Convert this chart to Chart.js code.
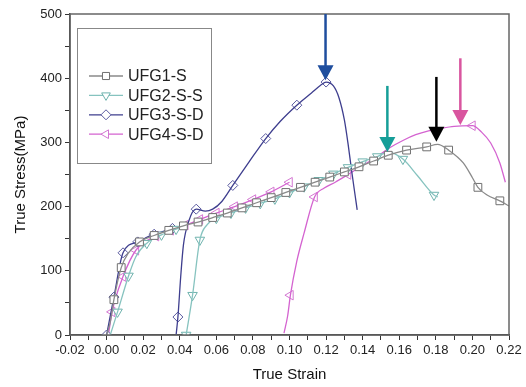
<!DOCTYPE html>
<html>
<head>
<meta charset="utf-8">
<script src="https://cdn.jsdelivr.net/npm/chart.js@4/dist/chart.umd.min.js"></script>
<style>
  html, body { margin: 0; padding: 0; background: #fff; }
  #wrap { width: 526px; height: 387px; }
</style>
</head>
<body>
<div id="wrap"><canvas id="curves"></canvas></div>
<script>
// series names
const names = ['UFG1-S', 'UFG2-S-S', 'UFG3-S-D', 'UFG4-S-D'];

// UFG1-S, one loading
const ufg1Strain = [0, 0.002, 0.004, 0.008, 0.012, 0.018, 0.026, 0.034, 0.042, 0.05, 0.058, 0.066, 0.074, 0.082, 0.09, 0.098, 0.106, 0.114, 0.122, 0.13, 0.138, 0.146, 0.154, 0.164, 0.175, 0.181, 0.187, 0.195, 0.2, 0.203, 0.208, 0.215, 0.22];
const ufg1Stress = [0, 20, 55, 105, 128, 145, 155, 163, 170, 176, 183, 190, 198, 206, 214, 222, 230, 238, 246, 254, 262, 271, 280, 288, 293, 297, 288, 268, 245, 230, 218, 209, 201];
const ufg1MarkStrain = [0.004, 0.008, 0.018, 0.026, 0.034, 0.042, 0.05, 0.058, 0.066, 0.074, 0.082, 0.09, 0.098, 0.106, 0.114, 0.122, 0.13, 0.138, 0.146, 0.154, 0.164, 0.175, 0.187, 0.203, 0.215];
const ufg1MarkStress = [55, 105, 145, 155, 163, 170, 176, 183, 190, 198, 206, 214, 222, 230, 238, 246, 254, 262, 271, 280, 288, 293, 288, 230, 209];

// UFG2-S-S, pre-strain then reload (null = break)
const ufg2Strain = [0.002, 0.006, 0.012, 0.016, 0.022, 0.03, 0.038, 0.042, null, 0.0435, 0.047, 0.051, 0.055, 0.06, 0.068, 0.076, 0.084, 0.092, 0.1, 0.108, 0.116, 0.124, 0.132, 0.14, 0.148, 0.154, 0.162, 0.17, 0.179, 0.181];
const ufg2Stress = [0, 36, 92, 122, 143, 156, 165, 169, null, 0, 62, 148, 172, 182, 190, 198, 205, 212, 222, 231, 241, 251, 261, 270, 278, 285, 274, 248, 218, 215];
const ufg2MarkStrain = [0.006, 0.012, 0.022, 0.03, 0.038, 0.0435, 0.047, 0.051, 0.06, 0.068, 0.076, 0.084, 0.092, 0.1, 0.108, 0.116, 0.124, 0.132, 0.14, 0.148, 0.162, 0.179];
const ufg2MarkStress = [36, 92, 143, 156, 165, 0, 62, 148, 182, 190, 198, 205, 212, 222, 231, 241, 251, 261, 270, 278, 274, 218];

// UFG3-S-D
const ufg3Strain = [0, 0.004, 0.009, 0.017, 0.026, 0.036, null, 0.038, 0.039, 0.0405, 0.042, 0.045, 0.049, 0.054, 0.058, 0.063, 0.069, 0.078, 0.087, 0.095, 0.104, 0.112, 0.117, 0.12, 0.124, 0.127, 0.13, 0.132, 0.134, 0.136, 0.137];
const ufg3Stress = [0, 59, 128, 145, 157, 166, null, 0, 28, 90, 140, 178, 196, 193, 196, 208, 233, 270, 306, 333, 358, 377, 389, 394, 388, 370, 335, 298, 255, 215, 195];
const ufg3MarkStrain = [0, 0.004, 0.009, 0.017, 0.026, 0.036, 0.039, 0.049, 0.069, 0.087, 0.104, 0.12];
const ufg3MarkStress = [0, 59, 128, 145, 157, 166, 28, 196, 233, 306, 358, 394];

// UFG4-S-D
const ufg4Strain = [0.001, 0.003, 0.009, 0.016, 0.027, 0.035, 0.043, 0.051, 0.06, 0.07, 0.08, 0.09, 0.1, null, 0.097, 0.099, 0.1005, 0.104, 0.108, 0.1137, 0.119, 0.125, 0.132, 0.14, 0.148, 0.155, 0.162, 0.169, 0.176, 0.183, 0.19, 0.2, 0.205, 0.21, 0.215, 0.218];
const ufg4Stress = [0, 36, 91, 132, 154, 163, 171, 180, 190, 200, 211, 223, 238, null, 3, 30, 62, 115, 159, 215, 229, 238, 250, 264, 278, 292, 303, 312, 318, 322, 325, 326, 316, 299, 268, 238];
const ufg4MarkStrain = [0.003, 0.009, 0.016, 0.027, 0.035, 0.043, 0.051, 0.06, 0.07, 0.08, 0.09, 0.1, 0.1005, 0.1137, 0.132, 0.2];
const ufg4MarkStress = [36, 91, 132, 154, 163, 171, 180, 190, 200, 211, 223, 238, 62, 215, 250, 326];

// peak arrows: strain, from stress, to stress
const arrowStrain = [0.1197, 0.1535, 0.1803, 0.1934];
const arrowFrom = [500, 388, 402, 431];
const arrowTo = [397, 285, 301, 327];
const arrowColors = ['#1f4e9e', '#169e98', '#000000', '#d9559f'];

const looks = [
  { color: '#8a8a8a', mark: '#707070', style: 'rect', rot: 0, r: 5.5 },
  { color: '#86c3bf', mark: '#6fb3ae', style: 'triangle', rot: 180, r: 5.5 },
  { color: '#3e3e8e', mark: '#5a5aa0', style: 'rectRot', rot: 0, r: 5 },
  { color: '#d463d0', mark: '#d477d2', style: 'triangle', rot: 270, r: 5.5 }
];

function pts(xs, ys) {
  return xs.map((x, i) => ({ x: x === null ? xs[i - 1] : x, y: ys[i] }));
}

const lines = [[ufg1Strain, ufg1Stress], [ufg2Strain, ufg2Stress], [ufg3Strain, ufg3Stress], [ufg4Strain, ufg4Stress]];
const marks = [[ufg1MarkStrain, ufg1MarkStress], [ufg2MarkStrain, ufg2MarkStress], [ufg3MarkStrain, ufg3MarkStress], [ufg4MarkStrain, ufg4MarkStress]];

const datasets = [];
names.forEach((n, i) => {
  const lk = looks[i];
  datasets.push({
    label: n,
    data: pts(lines[i][0], lines[i][1]),
    borderColor: lk.color,
    borderWidth: 1.3,
    pointRadius: 0,
    cubicInterpolationMode: 'monotone',
    spanGaps: false
  });
  datasets.push({
    label: n + ' marks',
    data: pts(marks[i][0], marks[i][1]),
    showLine: false,
    pointStyle: lk.style,
    rotation: lk.rot,
    pointRadius: lk.r,
    pointBorderWidth: 1,
    pointBorderColor: lk.mark,
    pointBackgroundColor: '#fff'
  });
});

function drawMark(ctx, style, rot, x, y, r) {
  ctx.beginPath();
  if (style === 'rect') {
    const s = r * Math.SQRT1_2;
    ctx.rect(x - s, y - s, 2 * s, 2 * s);
  } else if (style === 'rectRot') {
    ctx.moveTo(x, y - r); ctx.lineTo(x + r, y); ctx.lineTo(x, y + r); ctx.lineTo(x - r, y);
    ctx.closePath();
  } else {
    let a = rot * Math.PI / 180;
    ctx.moveTo(x + Math.sin(a) * r, y - Math.cos(a) * r);
    for (let k = 0; k < 2; k++) {
      a += Math.PI * 2 / 3;
      ctx.lineTo(x + Math.sin(a) * r, y - Math.cos(a) * r);
    }
    ctx.closePath();
  }
  ctx.fill();
  ctx.stroke();
}

const extras = {
  id: 'extras',
  beforeDraw(chart) {
    const c = chart.ctx;
    c.save();
    c.fillStyle = '#fff';
    c.fillRect(0, 0, chart.width, chart.height);
    c.restore();
  },
  afterDatasetsDraw(chart) {
    const c = chart.ctx, a = chart.chartArea;
    const xs = chart.scales.x, ys = chart.scales.y;
    c.save();
    // frame
    c.strokeStyle = '#666';
    c.lineWidth = 1.5;
    c.strokeRect(a.left, a.top, a.right - a.left, a.bottom - a.top);

    // arrows
    arrowStrain.forEach((s, i) => {
      const px = xs.getPixelForValue(s);
      const y1 = ys.getPixelForValue(arrowFrom[i]);
      const y2 = ys.getPixelForValue(arrowTo[i]);
      c.strokeStyle = arrowColors[i];
      c.fillStyle = arrowColors[i];
      c.lineWidth = 2.5;
      c.beginPath();
      c.moveTo(px, y1);
      c.lineTo(px, y2 - 12);
      c.stroke();
      c.beginPath();
      c.moveTo(px - 8, y2 - 15);
      c.lineTo(px + 8, y2 - 15);
      c.lineTo(px, y2);
      c.closePath();
      c.fill();
    });

    // legend box
    const lx = a.left + 7, ly = a.top + 14;
    c.fillStyle = '#fff';
    c.fillRect(lx, ly, 134, 135);
    c.strokeStyle = '#888';
    c.lineWidth = 1;
    c.strokeRect(lx + 0.5, ly + 0.5, 134, 135);
    c.font = '16px "Liberation Sans", Arial, sans-serif';
    c.textBaseline = 'middle';
    names.forEach((n, i) => {
      const lk = looks[i];
      const yy = ly + 48 + i * 19.4;
      c.strokeStyle = lk.color;
      c.lineWidth = 1.3;
      c.beginPath();
      c.moveTo(lx + 12, yy);
      c.lineTo(lx + 46, yy);
      c.stroke();
      c.fillStyle = '#fff';
      c.strokeStyle = lk.mark;
      c.lineWidth = 1;
      drawMark(c, lk.style, lk.rot, lx + 29, yy, 5);
      c.fillStyle = '#222';
      c.fillText(n, lx + 51, yy + 1);
    });
    c.restore();
  }
};

const tickFont = { family: 'Liberation Sans', size: 13 };
const titleFont = { family: 'Liberation Sans', size: 15 };

new Chart(document.getElementById('curves'), {
  type: 'line',
  data: { datasets },
  options: {
    responsive: true,
    maintainAspectRatio: false,
    animation: false,
    layout: { padding: { top: 14, right: 17, left: 0, bottom: 0 } },
    plugins: { legend: { display: false }, tooltip: { enabled: false } },
    scales: {
      x: {
        type: 'linear',
        min: -0.02,
        max: 0.22,
        afterFit(s) { s.height = 52; },
        grid: { drawOnChartArea: false, drawTicks: true, tickLength: 5, color: '#333' },
        border: { display: true, color: '#333', width: 1.5 },
        ticks: {
          stepSize: 0.01,
          autoSkip: false,
          maxRotation: 0,
          padding: 3,
          color: '#222',
          font: tickFont,
          callback: (v) => Math.round(v * 100) % 2 === 0 ? (Math.round(v * 100) / 100).toFixed(2) : ''
        },
        title: { display: true, text: 'True Strain', color: '#111', font: titleFont, padding: { top: 0, bottom: 3 } }
      },
      y: {
        min: 0,
        max: 500,
        afterFit(s) { s.width = 70; },
        grid: { drawOnChartArea: false, drawTicks: true, tickLength: 5, color: '#333' },
        border: { display: true, color: '#333', width: 1.5 },
        ticks: {
          stepSize: 50,
          autoSkip: false,
          padding: 3,
          color: '#222',
          font: tickFont,
          callback: (v) => v % 100 === 0 ? v : ''
        },
        title: { display: true, text: 'True Stress(MPa)', color: '#111', font: titleFont, padding: { top: 12, bottom: 0 } }
      }
    }
  },
  plugins: [extras]
});
</script>
</body>
</html>
